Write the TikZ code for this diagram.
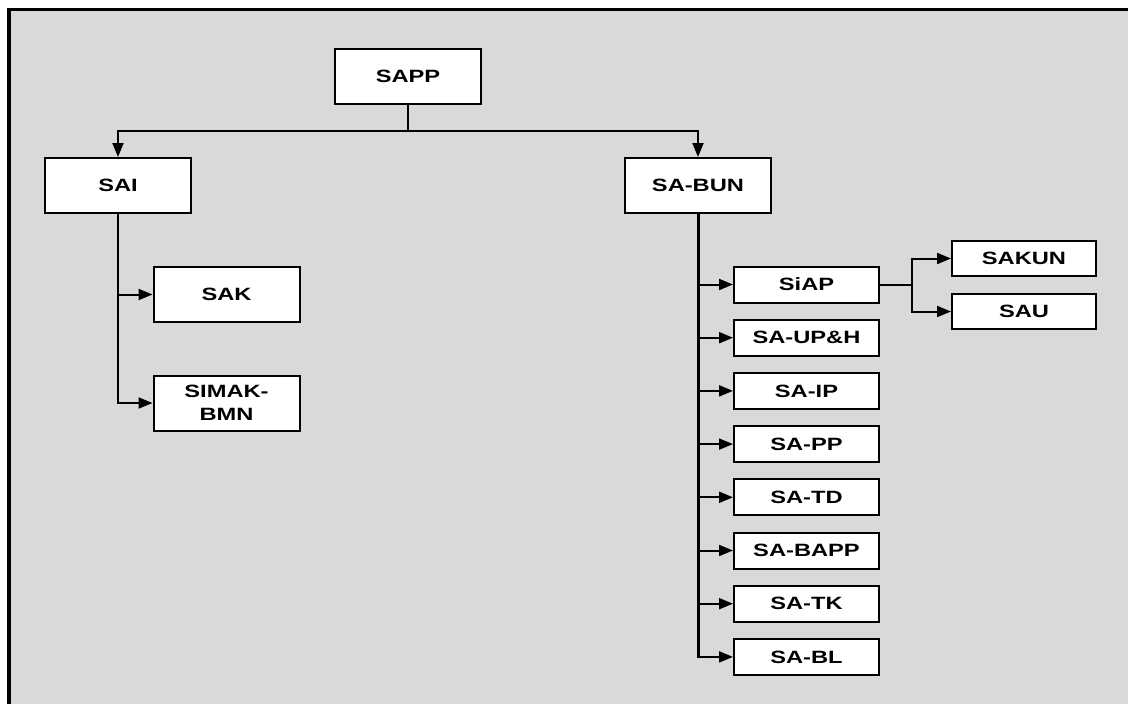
\documentclass[tikz,border=0pt]{standalone}
\usepackage{fontspec}
\newfontfamily\boxfont[FakeStretch=1.33,UprightFont={* Bold}]{Liberation Sans}
\usetikzlibrary{arrows.meta}
\definecolor{bggray}{HTML}{D9D9D9}
\tikzset{
  box/.style={draw=black, line width=2pt, fill=white, inner sep=0pt, align=center,
    font=\boxfont\fontsize{17.8}{22.5}\selectfont},
  bigbox/.style={box, minimum width=146pt, minimum height=55pt},
  smallbox/.style={box, minimum width=145pt, minimum height=36pt},
  conn/.style={line width=2pt},
  arr/.style={conn, -{Triangle[length=14pt,width=11pt]}},
}
\begin{document}
\begin{tikzpicture}[x=1pt,y=-1pt]
\useasboundingbox (0,0) rectangle (1128,704);
\fill[white] (0,0) rectangle (1128,704);
\clip (0,0) rectangle (1128,704);
\draw[line width=3.5pt, fill=bggray] (9,9.5) rectangle (1150,730);

\node[bigbox] (SAPP) at (408,76.5) {SAPP};
\node[bigbox] (SAI) at (118,185.5) {SAI};
\node[bigbox] (SABUN) at (698,185.5) {SA-BUN};
\node[bigbox] (SAK) at (226.5,294.5) {SAK};
\node[bigbox] (SIMAK) at (226.5,403) {SIMAK-\\BMN};

\node[smallbox] (SiAP) at (806.5,284.5) {SiAP};
\node[smallbox] (SAUPH) at (806.5,337.7) {SA-UP\&H};
\node[smallbox] (SAIP) at (806.5,390.9) {SA-IP};
\node[smallbox] (SAPP2) at (806.5,444.1) {SA-PP};
\node[smallbox] (SATD) at (806.5,497.3) {SA-TD};
\node[smallbox] (SABAPP) at (806.5,550.5) {SA-BAPP};
\node[smallbox] (SATK) at (806.5,603.7) {SA-TK};
\node[smallbox] (SABL) at (806.5,656.9) {SA-BL};

\node[smallbox, minimum width=144pt, minimum height=35pt] (SAKUN) at (1024,258.5) {SAKUN};
\node[smallbox, minimum width=144pt, minimum height=35pt] (SAU) at (1024,311.5) {SAU};

\coordinate (j1) at (408,131);
\coordinate (j2) at (912,284.5);

\draw[conn] (SAPP.south) -- (j1);
\draw[arr] (j1) -| (SAI.north);
\draw[arr] (j1) -| (SABUN.north);

\draw[conn] (SAI.south) -- (SAI.south |- SIMAK.west);
\draw[arr] (SAI.south) |- (SAK.west);
\draw[arr] (SAI.south) |- (SIMAK.west);

\draw[line width=3pt] (SABUN.south) -- (SABUN.south |- SABL.west);
\foreach \n in {SiAP,SAUPH,SAIP,SAPP2,SATD,SABAPP,SATK,SABL}
  \draw[arr] (SABUN.south) |- (\n.west);

\draw[conn] (SiAP.east) -- (j2);
\draw[arr] (j2) |- (SAKUN.west);
\draw[arr] (j2) |- (SAU.west);
\end{tikzpicture}
\end{document}
